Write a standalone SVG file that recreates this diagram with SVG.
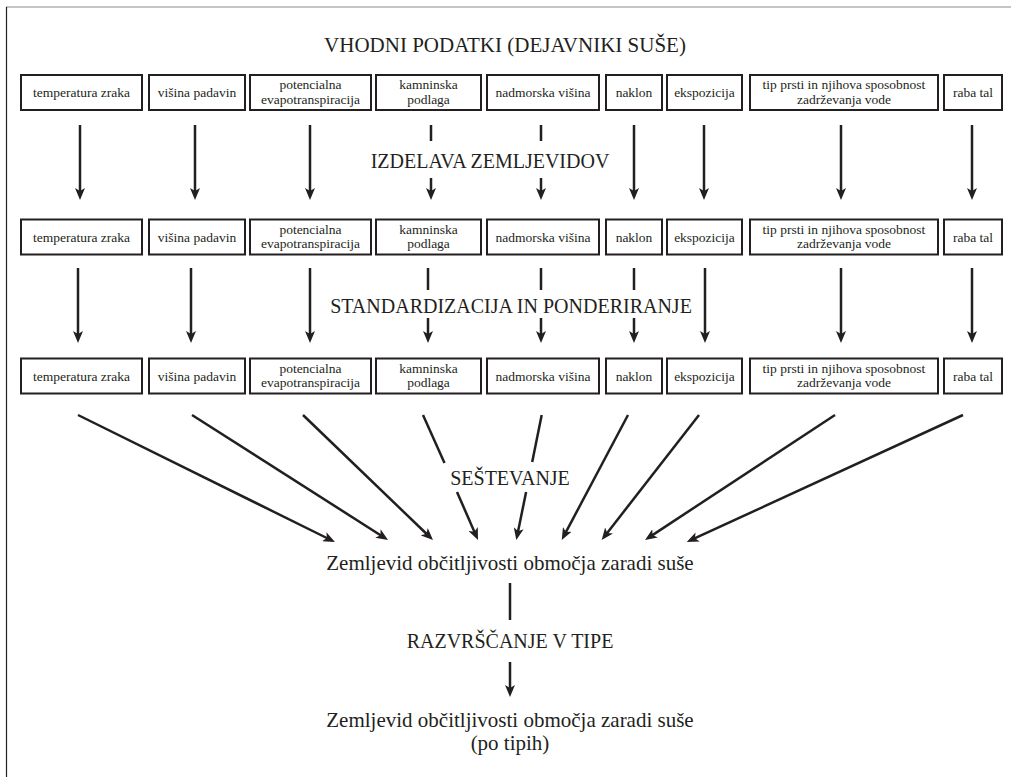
<svg xmlns="http://www.w3.org/2000/svg" width="1011" height="777" viewBox="0 0 1011 777">
<style>
.box{fill:#fff;stroke:#231f20;stroke-width:2}
.bt,.lbl,.res{font-family:'Liberation Serif','DejaVu Serif',serif;fill:#231f20;text-anchor:middle}
.bt{font-size:13.5px}
.lbl{font-size:20px}
.res{font-size:21px}
.ln{stroke:#231f20;stroke-width:2.5;fill:none}
.ar{stroke:#231f20;stroke-width:2.5;fill:none;marker-end:url(#ah)}
</style>
<defs>
<marker id="ah" markerUnits="userSpaceOnUse" markerWidth="12" markerHeight="10" viewBox="0 0 12 10" refX="4" refY="5" orient="auto">
<path d="M0,0 L12,5 L0,10 L3,5 z" fill="#231f20"/>
</marker>
</defs>
<rect x="0" y="0" width="1011" height="777" fill="#fff"/>
<g id="frame">
<line x1="6" y1="7" x2="1011" y2="7" stroke="#8a8a8a" stroke-width="1.2"/>
<line x1="6.5" y1="7" x2="6.5" y2="777" stroke="#231f20" stroke-width="1.2"/>
</g>

<g id="title"><text class="res" x="505" y="52">VHODNI PODATKI (DEJAVNIKI SUŠE)</text></g>

<!-- Row 1 -->
<g id="r1-temperatura"><rect class="box" x="21" y="75" width="121" height="35"/><text class="bt" x="81.5" y="97">temperatura zraka</text></g>
<g id="r1-padavine"><rect class="box" x="149" y="75" width="96" height="35"/><text class="bt" x="197" y="97">višina padavin</text></g>
<g id="r1-evapo"><rect class="box" x="250" y="75" width="121" height="35"/><text class="bt" x="310.5" y="89">potencialna</text><text class="bt" x="310.5" y="103.5">evapotranspiracija</text></g>
<g id="r1-kamninska"><rect class="box" x="376" y="75" width="105" height="35"/><text class="bt" x="428.5" y="89">kamninska</text><text class="bt" x="428.5" y="103.5">podlaga</text></g>
<g id="r1-nadmorska"><rect class="box" x="487" y="75" width="112" height="35"/><text class="bt" x="543" y="97">nadmorska višina</text></g>
<g id="r1-naklon"><rect class="box" x="606" y="75" width="56" height="35"/><text class="bt" x="634" y="97">naklon</text></g>
<g id="r1-ekspozicija"><rect class="box" x="667" y="75" width="75" height="35"/><text class="bt" x="704.5" y="97">ekspozicija</text></g>
<g id="r1-prst"><rect class="box" x="750" y="75" width="188" height="35"/><text class="bt" x="844" y="89">tip prsti in njihova sposobnost</text><text class="bt" x="844" y="103.5">zadrževanja vode</text></g>
<g id="r1-raba"><rect class="box" x="944" y="75" width="58" height="35"/><text class="bt" x="973" y="97">raba tal</text></g>

<g id="step1"><text class="lbl" x="490" y="168">IZDELAVA ZEMLJEVIDOV</text></g>

<!-- Row 2 -->
<g id="r2-temperatura"><rect class="box" x="21" y="219.5" width="121" height="35"/><text class="bt" x="81.5" y="241.5">temperatura zraka</text></g>
<g id="r2-padavine"><rect class="box" x="149" y="219.5" width="96" height="35"/><text class="bt" x="197" y="241.5">višina padavin</text></g>
<g id="r2-evapo"><rect class="box" x="250" y="219.5" width="121" height="35"/><text class="bt" x="310.5" y="233.5">potencialna</text><text class="bt" x="310.5" y="248">evapotranspiracija</text></g>
<g id="r2-kamninska"><rect class="box" x="376" y="219.5" width="105" height="35"/><text class="bt" x="428.5" y="233.5">kamninska</text><text class="bt" x="428.5" y="248">podlaga</text></g>
<g id="r2-nadmorska"><rect class="box" x="487" y="219.5" width="112" height="35"/><text class="bt" x="543" y="241.5">nadmorska višina</text></g>
<g id="r2-naklon"><rect class="box" x="606" y="219.5" width="56" height="35"/><text class="bt" x="634" y="241.5">naklon</text></g>
<g id="r2-ekspozicija"><rect class="box" x="667" y="219.5" width="75" height="35"/><text class="bt" x="704.5" y="241.5">ekspozicija</text></g>
<g id="r2-prst"><rect class="box" x="750" y="219.5" width="188" height="35"/><text class="bt" x="844" y="233.5">tip prsti in njihova sposobnost</text><text class="bt" x="844" y="248">zadrževanja vode</text></g>
<g id="r2-raba"><rect class="box" x="944" y="219.5" width="58" height="35"/><text class="bt" x="973" y="241.5">raba tal</text></g>

<g id="step2"><text class="lbl" x="511" y="313">STANDARDIZACIJA IN PONDERIRANJE</text></g>

<!-- Row 3 -->
<g id="r3-temperatura"><rect class="box" x="21" y="358.5" width="121" height="35"/><text class="bt" x="81.5" y="380.5">temperatura zraka</text></g>
<g id="r3-padavine"><rect class="box" x="149" y="358.5" width="96" height="35"/><text class="bt" x="197" y="380.5">višina padavin</text></g>
<g id="r3-evapo"><rect class="box" x="250" y="358.5" width="121" height="35"/><text class="bt" x="310.5" y="372.5">potencialna</text><text class="bt" x="310.5" y="387">evapotranspiracija</text></g>
<g id="r3-kamninska"><rect class="box" x="376" y="358.5" width="105" height="35"/><text class="bt" x="428.5" y="372.5">kamninska</text><text class="bt" x="428.5" y="387">podlaga</text></g>
<g id="r3-nadmorska"><rect class="box" x="487" y="358.5" width="112" height="35"/><text class="bt" x="543" y="380.5">nadmorska višina</text></g>
<g id="r3-naklon"><rect class="box" x="606" y="358.5" width="56" height="35"/><text class="bt" x="634" y="380.5">naklon</text></g>
<g id="r3-ekspozicija"><rect class="box" x="667" y="358.5" width="75" height="35"/><text class="bt" x="704.5" y="380.5">ekspozicija</text></g>
<g id="r3-prst"><rect class="box" x="750" y="358.5" width="188" height="35"/><text class="bt" x="844" y="372.5">tip prsti in njihova sposobnost</text><text class="bt" x="844" y="387">zadrževanja vode</text></g>
<g id="r3-raba"><rect class="box" x="944" y="358.5" width="58" height="35"/><text class="bt" x="973" y="380.5">raba tal</text></g>

<g id="step3"><text class="lbl" x="510" y="485">SEŠTEVANJE</text></g>

<g id="result1"><text class="res" x="510" y="570">Zemljevid občitljivosti območja zaradi suše</text></g>
<g id="step4"><text class="lbl" x="510" y="648">RAZVRŠČANJE V TIPE</text></g>
<g id="result2"><text class="res" x="510" y="727">Zemljevid občitljivosti območja zaradi suše</text><text class="res" x="510" y="750">(po tipih)</text></g>

<g id="connectors">
<line class="ar" x1="80" y1="125" x2="80" y2="192"/>
<line class="ar" x1="195" y1="125" x2="195" y2="192"/>
<line class="ar" x1="310" y1="125" x2="310" y2="192"/>
<line class="ln" x1="431" y1="125" x2="431" y2="141"/>
<line class="ar" x1="431" y1="178" x2="431" y2="192"/>
<line class="ln" x1="541" y1="125" x2="541" y2="141"/>
<line class="ar" x1="541" y1="178" x2="541" y2="192"/>
<line class="ar" x1="634" y1="125" x2="634" y2="192"/>
<line class="ar" x1="704" y1="125" x2="704" y2="192"/>
<line class="ar" x1="841" y1="125" x2="841" y2="192"/>
<line class="ar" x1="972" y1="125" x2="972" y2="192"/>
<line class="ar" x1="78" y1="268" x2="78" y2="335"/>
<line class="ar" x1="191" y1="268" x2="191" y2="335"/>
<line class="ar" x1="310" y1="268" x2="310" y2="335"/>
<line class="ln" x1="428" y1="268" x2="428" y2="290"/>
<line class="ar" x1="428" y1="318" x2="428" y2="335"/>
<line class="ln" x1="541" y1="268" x2="541" y2="290"/>
<line class="ar" x1="541" y1="318" x2="541" y2="335"/>
<line class="ln" x1="634" y1="268" x2="634" y2="290"/>
<line class="ar" x1="634" y1="318" x2="634" y2="335"/>
<line class="ar" x1="705" y1="268" x2="705" y2="335"/>
<line class="ar" x1="841" y1="268" x2="841" y2="335"/>
<line class="ar" x1="972" y1="268" x2="972" y2="335"/>
<line class="ar" x1="78" y1="415" x2="327.8" y2="538.5"/>
<line class="ar" x1="192" y1="415" x2="381.3" y2="535.7"/>
<line class="ar" x1="303" y1="415" x2="427.2" y2="534.5"/>
<line class="ln" x1="423" y1="415" x2="444.5" y2="463"/>
<line class="ar" x1="457" y1="492" x2="474.8" y2="532.7"/>
<line class="ln" x1="541.7" y1="415" x2="532.2" y2="462"/>
<line class="ar" x1="526.1" y1="492" x2="517.9" y2="532.2"/>
<line class="ar" x1="628" y1="415" x2="565.5" y2="532.9"/>
<line class="ar" x1="699" y1="415" x2="606.6" y2="533.7"/>
<line class="ar" x1="835" y1="415" x2="651.7" y2="535.6"/>
<line class="ar" x1="963" y1="415" x2="694" y2="538.7"/>
<line class="ln" x1="510" y1="583" x2="510" y2="620"/>
<line class="ar" x1="510" y1="662" x2="510" y2="689"/>
</g>
</svg>
